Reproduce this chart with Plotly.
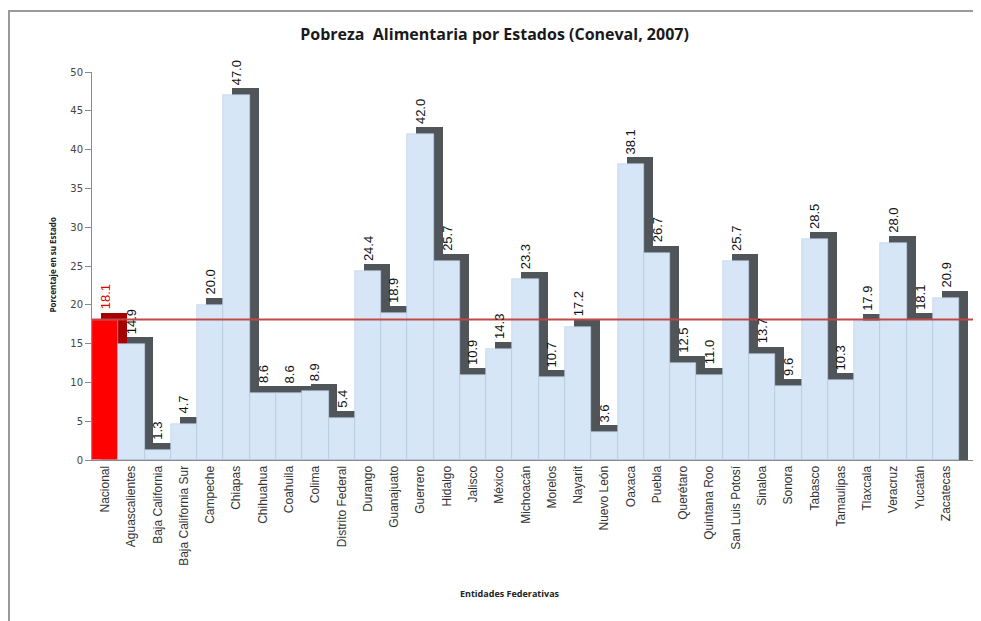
import plotly.graph_objects as go

# --- data ---
estados = ["Nacional", "Aguascalientes", "Baja California", "Baja California Sur", "Campeche",
           "Chiapas", "Chihuahua", "Coahuila", "Colima", "Distrito Federal", "Durango",
           "Guanajuato", "Guerrero", "Hidalgo", "Jalisco", "México", "Michoacán", "Morelos",
           "Nayarit", "Nuevo León", "Oaxaca", "Puebla", "Querétaro", "Quintana Roo",
           "San Luis Potosí", "Sinaloa", "Sonora", "Tabasco", "Tamaulipas", "Tlaxcala",
           "Veracruz", "Yucatán", "Zacatecas"]
pobreza = [18.1, 14.9, 1.3, 4.7, 20.0, 47.0, 8.6, 8.6, 8.9, 5.4, 24.4, 18.9, 42.0, 25.7,
           10.9, 14.3, 23.3, 10.7, 17.2, 3.6, 38.1, 26.7, 12.5, 11.0, 25.7, 13.7, 9.6,
           28.5, 10.3, 17.9, 28.0, 18.1, 20.9]
nacional = 18.1

# styling
depth_x = 0.34   # 3D depth offset (category units)
depth_y = 0.9    # 3D depth offset (value units)
front_colors = ["#ff0000"] + ["#d6e6f7"] * (len(estados) - 1)
side_colors = ["#a80000"] + ["#50555a"] * (len(estados) - 1)
label_colors = ["#e00000"] + ["#111111"] * (len(estados) - 1)

fig = go.Figure()

# back/side faces of the pseudo-3D columns
fig.add_trace(go.Bar(x=estados, y=[v + depth_y for v in pobreza],
                     width=1, offset=-0.5 + depth_x,
                     marker=dict(color=side_colors, line=dict(width=0)),
                     hoverinfo="skip", showlegend=False))
# front faces
fig.add_trace(go.Bar(x=estados, y=pobreza, width=1, offset=-0.5,
                     marker=dict(color=front_colors, line=dict(color="#bcd0e6", width=0.6)),
                     hovertemplate="%{x}: %{y}<extra></extra>", showlegend=False))

# value labels
for est, val, col in zip(estados, pobreza, label_colors):
    fig.add_annotation(x=est, y=val + depth_y, text=f"{val:.1f}", textangle=-90,
                       showarrow=False, yanchor="bottom", xanchor="center", yshift=1,
                       font=dict(family="Liberation Sans Narrow, Arial Narrow, sans-serif",
                                 size=13, color=col))

# national reference line
fig.add_shape(type="line", xref="paper", x0=0, x1=1, yref="y", y0=nacional, y1=nacional,
              line=dict(color="#c24848", width=2), layer="above")

# outer frame of the original picture
fig.add_shape(type="rect", xref="paper", yref="paper", x0=-0.094, x1=1.2, y0=-1, y1=1.157,
              line=dict(color="#9a9a9a", width=2), layer="below")

fig.add_annotation(text="<b>Porcentaje en su Estado</b>", xref="paper", yref="paper",
                   x=-0.053, y=0.503, textangle=-90, showarrow=False,
                   font=dict(family="Open Sans, sans-serif", size=8, color="#222222"))
fig.add_annotation(text="<b>Entidades Federativas</b>", xref="paper", yref="paper",
                   x=0.473, y=-0.366, showarrow=False,
                   font=dict(family="Open Sans, sans-serif", size=9, color="#222222"))

fig.update_layout(
    width=981, height=621,
    margin=dict(l=84, r=14, t=64, b=169),
    paper_bgcolor="white", plot_bgcolor="white",
    barmode="overlay", bargap=0,
    title=dict(text="<b>Pobreza  Alimentaria por Estados (Coneval, 2007)</b>",
               x=0.496, xanchor="center", y=0.958, yanchor="middle",
               font=dict(family="Open Sans, sans-serif", size=16, color="#1a1a1a")),
    xaxis=dict(range=[-0.5, 33.1], tickangle=-90, showgrid=False, zeroline=False,
               showline=True, linecolor="#8a8a8a", linewidth=1, ticks="",
               tickfont=dict(family="Liberation Sans Narrow, Arial Narrow, sans-serif",
                             size=12, color="#333333")),
    yaxis=dict(range=[0, 50], dtick=5, showgrid=False, zeroline=False,
               showline=True, linecolor="#8a8a8a", linewidth=1,
               ticks="outside", ticklen=6, tickcolor="#8a8a8a",
               tickfont=dict(family="DejaVu Sans, sans-serif", size=10, color="#444444")),
)

fig.write_html("out.html")
